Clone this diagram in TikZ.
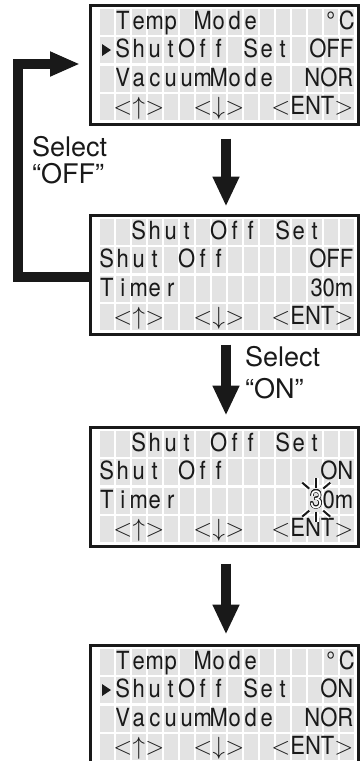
\documentclass[tikz,border=0pt]{standalone}
\usepackage{fontspec}
\setmainfont{TeX Gyre Heros}
\newfontfamily\lcdfont[FakeStretch=0.88]{TeX Gyre Heros}
\usepackage{contour}
\contourlength{0.6pt}
\usetikzlibrary{arrows.meta,calc,positioning}

\tikzset{
  lcd/.style={draw=black!90,line width=3pt,outer sep=0pt,inner sep=0pt,
    minimum width=268pt,minimum height=119pt},
  lcdcell/.style={fill=black!11},
  lcdchar/.style={inner sep=0pt,anchor=base,text=black!90,
    font=\lcdfont\fontsize{25}{25}\selectfont},
  bigarrow/.style={draw=black!90,line width=10pt,
    -{Triangle[width=25pt,length=30pt]}},
  looparrow/.style={draw=black!90,line width=10pt,miter limit=10,
    -{Triangle[width=23pt,length=30pt]}},
  note/.style={inner sep=0pt,anchor=north west,align=left,text=black!90},
  rayhalo/.style={draw=white,line width=5pt},
  ray/.style={draw=black!90,line width=2pt}
}

% 16 x 4 character cells of one display
\newcommand\lcdgrid[1]{%
  \foreach \r in {0,...,3}
    \foreach \c in {0,...,15}
      \fill[lcdcell] ($(#1.north west)+(10+16*\c,3+28.5*\r)$) rectangle ++(13.5,26);}
% one character per cell: panel, row, first column, characters
\newcommand\lcdrow[4]{%
  \foreach \ch [count=\c from #3] in {#4}
    \node[lcdchar] (#1r#2c\c) at ($(#1.north west)+(16.75+16*\c,23.5+28.5*#2)$) {\ch};}
% value set flush right
\newcommand\lcdright[3]{%
  \node[lcdchar,anchor=base east] (#1v#2) at ($(#1.north west)+(263.5,23.5+28.5*#2)$) {#3};}
\newcommand\lcdcursor[2]{%
  \fill[black!90] ($(#1.north west)+(12,10+28.5*#2)$) -- ++(0,12) -- ++(9,-6) -- cycle;}
\newcommand\lt{$<$}
\newcommand\gt{$>$}

\begin{document}
\begin{tikzpicture}[x=1pt,y=-1pt]
  \useasboundingbox (0,0) rectangle (363,761);
  \clip (0,0) rectangle (363,761);

  % displays
  \node[lcd] (p1) at (224,65) {};
  \node[lcd] (p2) at (224,275) {};
  \node[lcd] (p3) at (224,487) {};
  \node[lcd] (p4) at (224,705) {};
  \foreach \p in {p1,p2,p3,p4} {\lcdgrid{\p}}

  % main menu, shut off = OFF
  \lcdrow{p1}{0}{1}{T,e,m,p,{},M,o,d,e}
  \lcdrow{p1}{0}{14}{°,C}
  \lcdcursor{p1}{1}
  \lcdrow{p1}{1}{1}{S,h,u,t,O,f,f,{},S,e,t}
  \lcdright{p1}{1}{OFF}
  \lcdrow{p1}{2}{1}{V,a,c,u,u,m,M,o,d,e}
  \lcdright{p1}{2}{NOR}
  \lcdrow{p1}{3}{1}{\lt,$\uparrow$,\gt,{},{},\lt,$\downarrow$,\gt}
  \lcdright{p1}{3}{\lt ENT\gt}

  % shut off set, OFF
  \lcdrow{p2}{0}{2}{S,h,u,t,{},O,f,f,{},S,e,t}
  \lcdrow{p2}{1}{0}{S,h,u,t,{},O,f,f}
  \lcdright{p2}{1}{OFF}
  \lcdrow{p2}{2}{0}{T,i,m,e,r}
  \lcdright{p2}{2}{30m}
  \lcdrow{p2}{3}{1}{\lt,$\uparrow$,\gt,{},{},\lt,$\downarrow$,\gt}
  \lcdright{p2}{3}{\lt ENT\gt}

  % shut off set, ON, timer blinking
  \lcdrow{p3}{0}{2}{S,h,u,t,{},O,f,f,{},S,e,t}
  \lcdrow{p3}{1}{0}{S,h,u,t,{},O,f,f}
  \lcdright{p3}{1}{ON}
  \lcdrow{p3}{2}{0}{T,i,m,e,r}
  \lcdright{p3}{2}{0m}
  \node[lcdchar,anchor=base east] (blink3) at (p3v2.base west)
    {{\color{white}\contour{black!90}{3}}};
  \lcdrow{p3}{3}{1}{\lt,$\uparrow$,\gt,{},{},\lt,$\downarrow$,\gt}
  \lcdright{p3}{3}{\lt ENT\gt}
  \foreach \s in {1,-1} {
    \draw[rayhalo] ($(blink3.center)+(0,-12*\s)$) -- ++(0,-10*\s);
    \draw[rayhalo] ($(blink3.center)+(-7,-11*\s)$) -- ++(-7,-6*\s);
    \draw[rayhalo] ($(blink3.center)+(7,-11*\s)$) -- ++(7,-6*\s);
  }
  \foreach \s in {1,-1} {
    \draw[ray] ($(blink3.center)+(0,-12*\s)$) -- ++(0,-10*\s);
    \draw[ray] ($(blink3.center)+(-7,-11*\s)$) -- ++(-7,-6*\s);
    \draw[ray] ($(blink3.center)+(7,-11*\s)$) -- ++(7,-6*\s);
  }

  % main menu, shut off = ON
  \lcdrow{p4}{0}{1}{T,e,m,p,{},M,o,d,e}
  \lcdrow{p4}{0}{14}{°,C}
  \lcdcursor{p4}{1}
  \lcdrow{p4}{1}{1}{S,h,u,t,O,f,f,{},S,e,t}
  \lcdright{p4}{1}{ON}
  \lcdrow{p4}{2}{1}{V,a,c,u,u,m,M,o,d,e}
  \lcdright{p4}{2}{NOR}
  \lcdrow{p4}{3}{1}{\lt,$\uparrow$,\gt,{},{},\lt,$\downarrow$,\gt}
  \lcdright{p4}{3}{\lt ENT\gt}

  % flow
  \draw[bigarrow] ($(p1.south)+(2,14)$) -- ($(p2.north)+(2,-9)$);
  \draw[bigarrow] ($(p2.south)+(2,10)$) -- ($(p3.north)+(2,-12)$);
  \draw[bigarrow] ($(p3.south)+(2,17)$) -- ($(p4.north)+(2,-11)$);
  \coordinate (loopbot) at (18,277);
  \draw[looparrow] ($(p2.west)+(0,2)$) -- (loopbot) |- ($(p1.west)+(-10,-1)$);

  \node[note,font=\fontsize{27}{27}\selectfont] (selOff) at (32,136) {Select\\“OFF”};
  \node[note,font=\fontsize{27}{32}\selectfont] (selOn) at (245,346) {Select\\“ON”};
\end{tikzpicture}
\end{document}
